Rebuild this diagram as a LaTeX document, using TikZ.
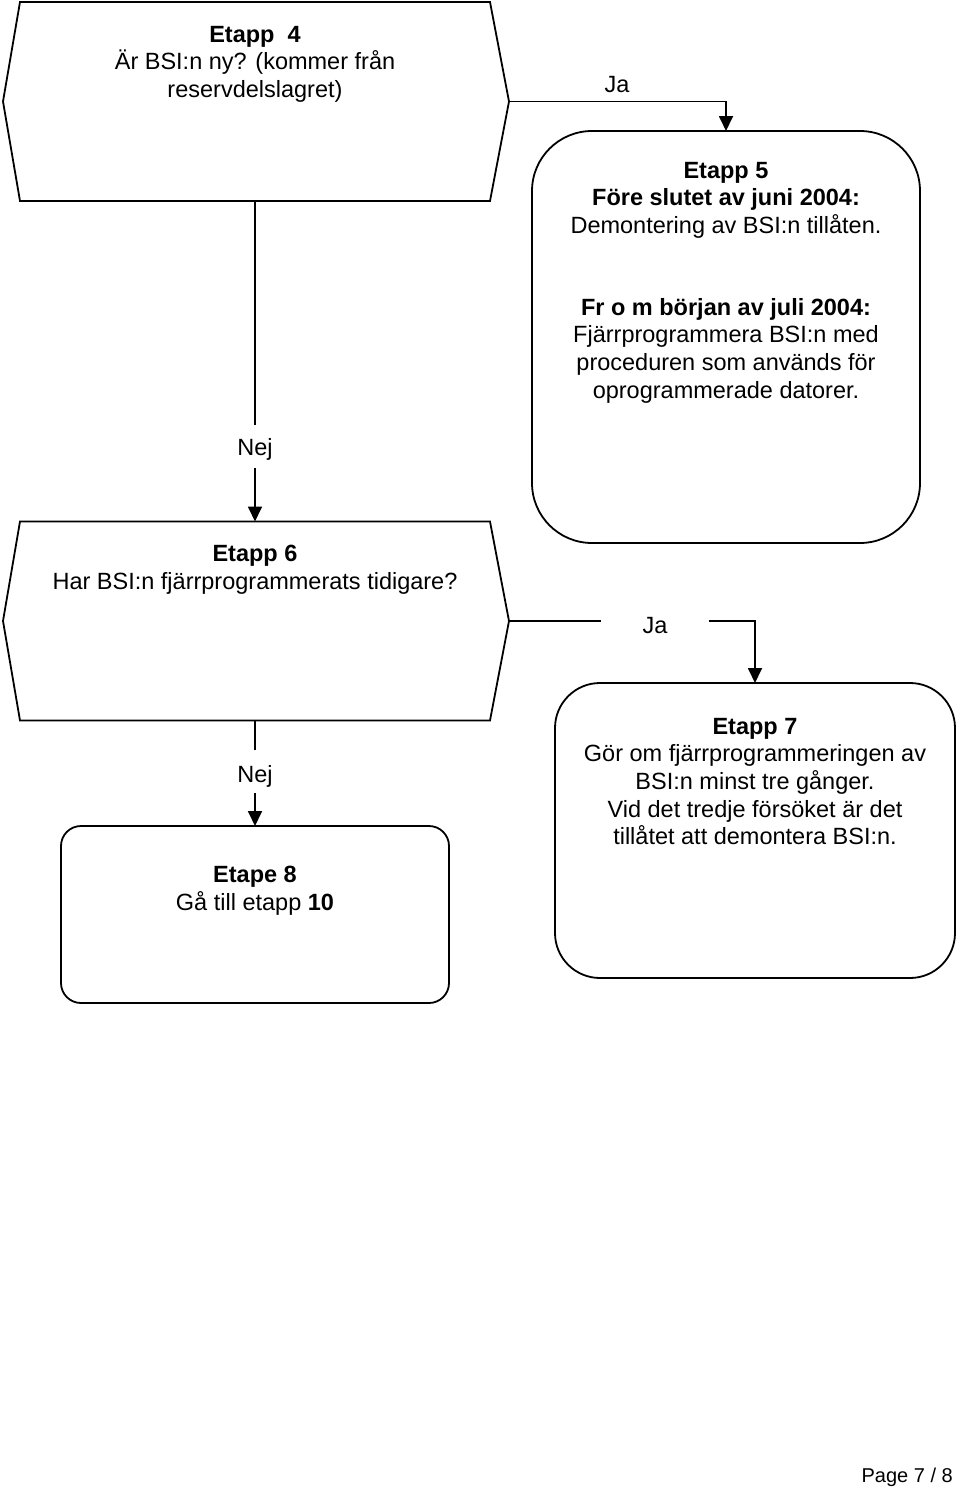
\documentclass[tikz,border=0pt]{standalone}
\usepackage{fontspec}
\setmainfont{Liberation Sans}
\usetikzlibrary{arrows.meta,calc}
\begin{document}
\begin{tikzpicture}[x=1pt,y=-1pt,
  outline/.style={draw=black,line width=1.8pt,line join=miter},
  conn/.style={draw=black,line width=1.8pt},
  arr/.style={-{Triangle[width=14pt,length=15pt]}},
  area/.style={inner sep=0pt,outer sep=0pt},
  rbox/.style={draw=black,line width=1.8pt,inner sep=0pt,outer sep=0pt},
  txt/.style={font=\fontsize{23.5}{27.6}\selectfont,align=center,inner sep=0pt,anchor=north},
  lbl/.style={font=\fontsize{23.5}{27.6}\selectfont,inner sep=0pt,anchor=base}]
\useasboundingbox (0,0) rectangle (960,1491);
\fill[white] (0,0) rectangle (960,1491);

% decision shapes (hexagons)
\node[area,minimum width=470pt,minimum height=199pt] (e4) at (255,101.5) {};
\coordinate (e4r) at ($(e4.east)+(19,0)$);
\coordinate (e4l) at ($(e4.west)+(-17,0)$);
\draw[outline] (e4.north west) -- (e4.north east) -- (e4r) -- (e4.south east) -- (e4.south west) -- (e4l) -- cycle;

\node[area,minimum width=470pt,minimum height=199pt] (e6) at (255,621) {};
\coordinate (e6r) at ($(e6.east)+(19,0)$);
\coordinate (e6l) at ($(e6.west)+(-17,0)$);
\draw[outline] (e6.north west) -- (e6.north east) -- (e6r) -- (e6.south east) -- (e6.south west) -- (e6l) -- cycle;

% process boxes
\node[rbox,rounded corners=60pt,minimum width=388pt,minimum height=412pt] (e5) at (726,337) {};
\node[rbox,rounded corners=45pt,minimum width=400pt,minimum height=295pt] (e7) at (755,830.5) {};
\node[rbox,rounded corners=20pt,minimum width=388pt,minimum height=177pt] (e8) at (255,914.5) {};

% texts
\node[txt] (t4) at (255,26) {\textbf{Etapp\ \ 4}\\Är BSI:n ny? (kommer från\\reservdelslagret)};
\node[txt] (t5) at (726,162) {\textbf{Etapp 5}\\\textbf{Före slutet av juni 2004:}\\Demontering av BSI:n tillåten.};
\node[txt] (t5b) at (726,298) {\textbf{Fr o m början av juli 2004:}\\Fjärrprogrammera BSI:n med\\proceduren som används för\\oprogrammerade datorer.};
\node[txt] (t6) at (255,545) {\textbf{Etapp 6}\\Har BSI:n fjärrprogrammerats tidigare?};
\node[txt] (t7) at (755,718) {\textbf{Etapp 7}\\Gör om fjärrprogrammeringen av\\BSI:n minst tre gånger.\\Vid det tredje försöket är det\\tillåtet att demontera BSI:n.};
\node[txt] (t8) at (255,866) {\textbf{Etape 8}\\Gå till etapp \textbf{10}};

% labels
\node[lbl] (ja1) at (617,92) {Ja};
\node[lbl] (nej1) at (255,455) {Nej};
\node[lbl] (ja2) at (655,633) {Ja};
\node[lbl] (nej2) at (255,782) {Nej};

% connectors
\draw[conn,arr] (e4r) -| (e5.north);
\draw[conn] (e4.south) -- ($(nej1.north)+(0,-13)$);
\draw[conn,arr] ($(nej1.south)+(0,8)$) -- (e6.north);
\draw[conn] (e6r) -- ($(e6r -| ja2.west)+(-41,0)$);
\draw[conn,arr] ($(e6r -| ja2.east)+(41,0)$) -| (e7.north);
\draw[conn] (e6.south) -- ($(nej2.north)+(0,-15)$);
\draw[conn,arr] ($(nej2.south)+(0,6)$) -- (e8.north);

% page footer
\node[font=\fontsize{20}{24}\selectfont,inner sep=0pt,anchor=base east] (pg) at (953,1482) {Page 7 / 8};
\end{tikzpicture}
\end{document}
